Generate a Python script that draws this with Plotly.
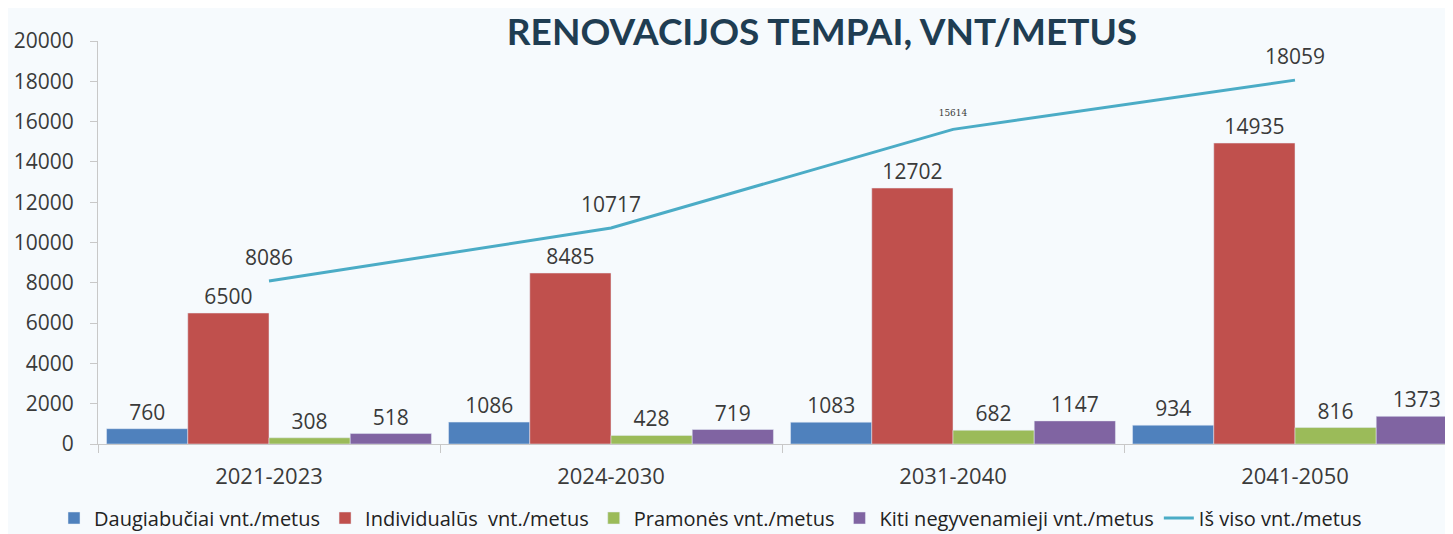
import plotly.graph_objects as go

categories = ["2021-2023", "2024-2030", "2031-2040", "2041-2050"]
daugiabuciai = [760, 1086, 1083, 934]
individualus = [6500, 8485, 12702, 14935]
pramones = [308, 428, 682, 816]
kiti = [518, 719, 1147, 1373]
is_viso = [8086, 10717, 15614, 18059]
y_ticks = [0, 2000, 4000, 6000, 8000, 10000, 12000, 14000, 16000, 18000, 20000]

series = [
    ("Daugiabučiai vnt./metus", daugiabuciai, "#4f81bd"),
    ("Individualūs  vnt./metus", individualus, "#c0504d"),
    ("Pramonės vnt./metus", pramones, "#9bbb59"),
    ("Kiti negyvenamieji vnt./metus", kiti, "#8064a2"),
]

FONT = "Open Sans"
TXT = "#3a3a3a"
W, H = 1445, 526  # page body adds an 8px margin

fig = go.Figure()
for name, vals, col in series:
    fig.add_trace(go.Bar(
        x=categories, y=vals, name=name, marker_color=col,
        text=[str(v) for v in vals], textposition="outside",
        textfont=dict(size=21, color=TXT, family=FONT),
        cliponaxis=False,
    ))

fig.add_trace(go.Scatter(
    x=categories, y=is_viso, name="Iš viso vnt./metus", mode="lines",
    line=dict(color="#4bacc6", width=3), cliponaxis=False,
))

line_sizes = [21, 21, 9, 21]
line_fonts = [FONT, FONT, "DejaVu Serif", FONT]
fig.add_trace(go.Scatter(
    x=categories, y=is_viso, mode="markers+text", showlegend=False, hoverinfo="skip",
    marker=dict(size=16, opacity=0, color="#4bacc6"),
    text=[str(v) for v in is_viso], textposition="top center",
    textfont=dict(size=line_sizes, color=TXT, family=line_fonts),
    cliponaxis=False,
))

fig.update_layout(
    width=W, height=H,
    paper_bgcolor="#f6fafd", plot_bgcolor="#f6fafd",
    margin=dict(l=90, r=0, t=33, b=90, autoexpand=False),
    barmode="group", bargap=0.05, bargroupgap=0,
    font=dict(family=FONT, size=20, color=TXT),
    title=dict(text="<b>RENOVACIJOS TEMPAI, VNT/METUS</b>",
               x=814 / W, xanchor="center", xref="container",
               y=1 - 24 / H, yanchor="middle", yref="container",
               font=dict(family="Lato", size=37, color="#1f3d52")),
    showlegend=True,
    legend=dict(orientation="h", xref="container", x=46 / W, xanchor="left",
                yref="container", y=16 / H, yanchor="middle",
                font=dict(size=20, color="#222222", family=FONT),
                itemwidth=30, tracegroupgap=0, traceorder="normal"),
    xaxis=dict(range=[-0.5, 3.462], showline=True, linecolor="#c8c8c8",
               ticks="outside", tickson="boundaries", ticklen=8, tickcolor="#c8c8c8",
               ticklabelstandoff=13,
               tickfont=dict(size=22, color=TXT), showgrid=False, zeroline=False),
    yaxis=dict(range=[0, 20000], tickvals=y_ticks, tickformat="d", showline=True,
               linecolor="#c8c8c8", ticks="outside", ticklen=7, tickcolor="#c8c8c8",
               ticklabelstandoff=12, showgrid=False, zeroline=False,
               tickfont=dict(size=21, color=TXT)),
)

fig.write_html("out.html")
